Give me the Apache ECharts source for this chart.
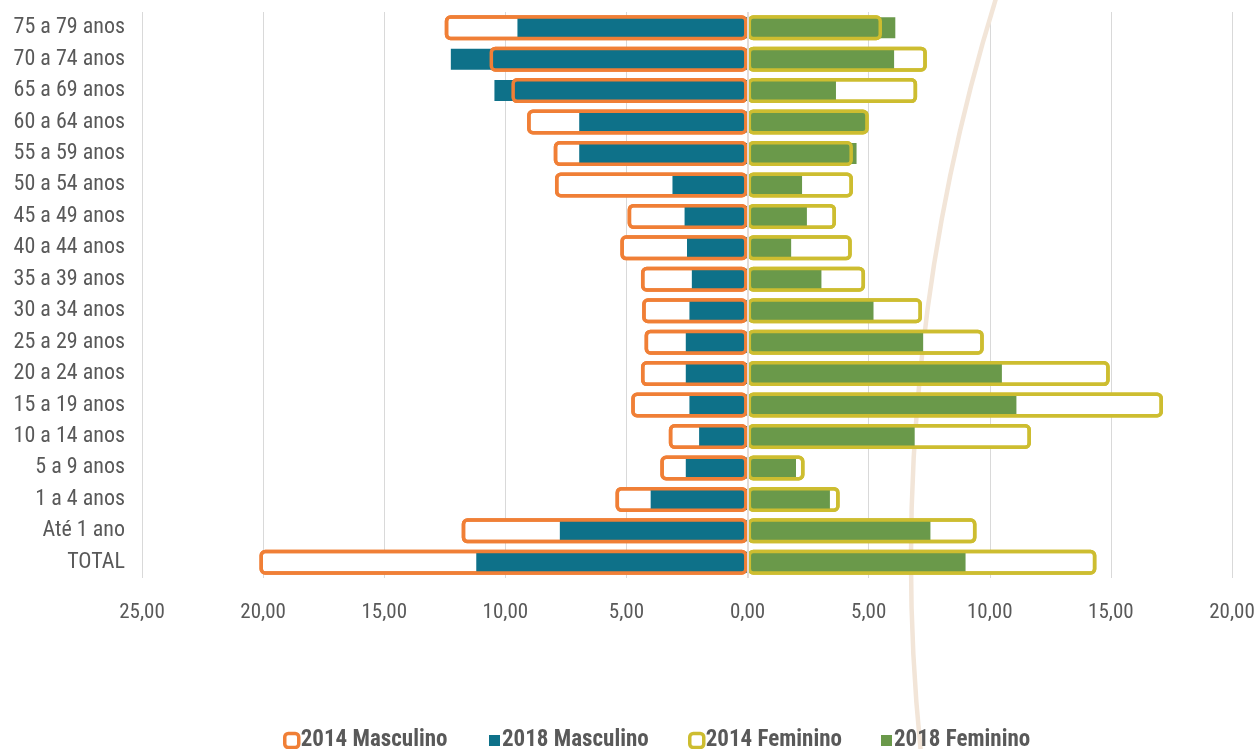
<!DOCTYPE html>
<html><head><meta charset="utf-8">
<script src="https://cdn.jsdelivr.net/npm/echarts@6/dist/echarts.min.js"></script>
<style>html,body{margin:0;padding:0;background:#fff}#c{width:1258px;height:749px}</style>
</head><body><div id="c"></div>
<script>
const categories = ['75 a 79 anos','70 a 74 anos','65 a 69 anos','60 a 64 anos','55 a 59 anos','50 a 54 anos','45 a 49 anos','40 a 44 anos','35 a 39 anos','30 a 34 anos','25 a 29 anos','20 a 24 anos','15 a 19 anos','10 a 14 anos','5 a 9 anos','1 a 4 anos','Até 1 ano','TOTAL'];
const masc2014 = [12.5, 10.65, 9.75, 9.1, 8.0, 7.95, 4.95, 5.25, 4.4, 4.35, 4.25, 4.4, 4.8, 3.25, 3.6, 5.45, 11.8, 20.15];
const masc2018 = [9.5, 12.25, 10.45, 6.95, 6.95, 3.1, 2.6, 2.5, 2.3, 2.4, 2.55, 2.55, 2.4, 2.0, 2.55, 4.0, 7.75, 11.2];
const fem2014 = [5.55, 7.4, 7.0, 5.0, 4.35, 4.35, 3.65, 4.3, 4.85, 7.2, 9.75, 14.95, 17.15, 11.7, 2.35, 3.8, 9.45, 14.4];
const fem2018 = [6.1, 6.05, 3.65, 4.95, 4.5, 2.25, 2.45, 1.8, 3.05, 5.2, 7.25, 10.5, 11.1, 6.9, 2.0, 3.4, 7.55, 9.0];
const xMin = -25, xMax = 20, xStep = 5;

const FONT = "'Roboto Condensed','Liberation Sans Narrow','Arial Narrow','DejaVu Sans Condensed',sans-serif";
const C_M14 = '#F07F36', C_M18 = '#0E7189', C_F14 = '#CDBD30', C_F18 = '#6A994A';
const TXT = '#595959';

const neg = a => a.map(v => -v);
const chart = echarts.init(document.getElementById('c'), null, {renderer:'canvas'});

function legend(name, left, icon, w, h, style) {
  return {
    data: [{name: name, icon: icon, itemStyle: style}],
    left: left, top: 724, itemWidth: w, itemHeight: h, itemGap: 0,
    selectedMode: false,
    textStyle: {color: TXT, fontFamily: FONT, fontWeight: 'bold', fontSize: 23, padding: [0,0,0,-3]}
  };
}

const option = {
  animation: false,
  backgroundColor: '#fff',
  graphic: [{
    type: 'arc', z: 1, silent: true,
    shape: {cx: 2802, cy: 559, r: 1891, startAngle: 3.0, endAngle: 3.5, clockwise: true},
    style: {fill: 'none', stroke: '#F2E5D8', lineWidth: 4.5}
  }],
  legend: [
    legend('2014 Masculino', 278, 'roundRect', 14, 14, {color:'#fff', borderColor: C_M14, borderWidth: 3.5}),
    legend('2018 Masculino', 484, 'rect', 11, 11, {color: C_M18, borderWidth: 0}),
    legend('2014 Feminino', 683, 'roundRect', 14, 14, {color:'#fff', borderColor: C_F14, borderWidth: 3.5}),
    legend('2018 Feminino', 876, 'rect', 11, 11, {color: C_F18, borderWidth: 0})
  ],
  grid: {left: 142, right: 26, top: 12, bottom: 171, containLabel: false},
  xAxis: {
    type: 'value', min: xMin, max: xMax, interval: xStep,
    axisLine: {show: false}, axisTick: {show: false},
    splitLine: {lineStyle: {color: '#D9D9D9', width: 1}},
    axisLabel: {
      color: TXT, fontFamily: FONT, fontSize: 21, margin: 24,
      formatter: v => Math.abs(v).toFixed(2).replace('.', ',')
    }
  },
  yAxis: [
    {type: 'category', data: categories, inverse: true,
     axisLine: {show: false}, axisTick: {show: false},
     axisLabel: {color: TXT, fontFamily: FONT, fontSize: 22, margin: 17}},
    {type: 'category', data: categories, inverse: true, show: false},
    {type: 'category', data: categories, inverse: true, show: false}
  ],
  series: [
    {name: '2014 Masculino', type: 'bar', yAxisIndex: 0, data: neg(masc2014), barWidth: 25, barGap: '-100%', z: 2,
     itemStyle: {color: '#fff', borderColor: C_M14, borderWidth: 3.5, borderRadius: 4}},
    {name: '2014 Feminino', type: 'bar', yAxisIndex: 0, data: fem2014, barWidth: 25, barGap: '-100%', z: 2,
     itemStyle: {color: '#fff', borderColor: C_F14, borderWidth: 3.5, borderRadius: 4}},
    {name: '2018 Masculino', type: 'bar', yAxisIndex: 1, data: neg(masc2018), barWidth: 21, barGap: '-100%', z: 3,
     itemStyle: {color: C_M18}},
    {name: '2018 Feminino', type: 'bar', yAxisIndex: 1, data: fem2018, barWidth: 21, barGap: '-100%', z: 3,
     itemStyle: {color: C_F18}},
    {name: '2014 Masculino', type: 'bar', yAxisIndex: 2, data: neg(masc2014), barWidth: 25, barGap: '-100%', z: 4,
     itemStyle: {color: 'rgba(0,0,0,0)', borderColor: C_M14, borderWidth: 3.5, borderRadius: 4}},
    {name: '2014 Feminino', type: 'bar', yAxisIndex: 2, data: fem2014, barWidth: 25, barGap: '-100%', z: 4,
     itemStyle: {color: 'rgba(0,0,0,0)', borderColor: C_F14, borderWidth: 3.5, borderRadius: 4},
     markLine: {silent: true, symbol: 'none', label: {show: false}, z: 5,
       lineStyle: {color: '#E3DCD8', type: 'solid', width: 2},
       data: [{xAxis: 0}]}}
  ]
};
chart.setOption(option);
</script></body></html>
